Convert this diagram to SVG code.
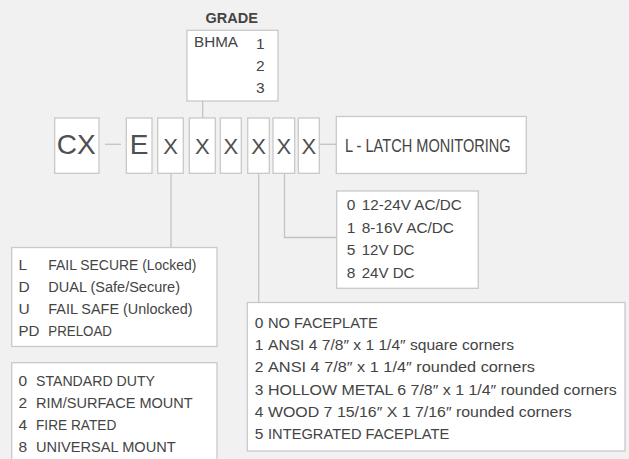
<svg xmlns="http://www.w3.org/2000/svg" width="629" height="459" viewBox="0 0 629 459">
<style>
.bg{fill:#f1f1f1}
.box{fill:#ffffff;stroke:#c9c9c9;stroke-width:1.3}
.ln{fill:none;stroke:#c3c3c3;stroke-width:1.3}
text{font-family:"Liberation Sans",Arial,sans-serif;fill:#444444}
.big{font-size:28px;fill:#505050}
.x{font-size:22px;fill:#505050}
.t{font-size:15.5px}
.g{font-size:14.5px;font-weight:bold}
.gl{font-size:15.5px}
.lm{font-size:17.5px}
</style>
<rect class="bg" x="0" y="0" width="629" height="459"/>
<g id="connectors">
<line class="ln" x1="202.7" y1="101" x2="202.7" y2="118"/>
<line class="ln" x1="105" y1="144.3" x2="121" y2="144.3"/>
<line class="ln" x1="319.3" y1="144.3" x2="336.3" y2="144.3"/>
<line class="ln" x1="171" y1="173.3" x2="171" y2="248"/>
<line class="ln" x1="258.7" y1="173.3" x2="258.7" y2="302.5"/>
<polyline class="ln" points="284.5,173.3 284.5,237.5 336.7,237.5"/>
</g>
<g id="grade">
<text class="g" x="231.7" y="22.7" text-anchor="middle">GRADE</text>
<rect class="box" x="187" y="30.3" width="91" height="70.7"/>
<text class="gl" x="194" y="46.7" textLength="44" lengthAdjust="spacingAndGlyphs">BHMA</text>
<text class="gl" x="256" y="49.3">1</text>
<text class="gl" x="256" y="71.3">2</text>
<text class="gl" x="256" y="93">3</text>
</g>
<g id="cx">
<rect class="box" x="54.7" y="118" width="44.3" height="55.3"/>
<text class="big" x="76.3" y="154" text-anchor="middle">CX</text>
</g>
<g id="e">
<rect class="box" x="126.3" y="118" width="25.7" height="55.3"/>
<text class="big" x="139.2" y="154" text-anchor="middle">E</text>
</g>
<g id="x1">
<rect class="box" x="157.7" y="118" width="25.6" height="55.3"/>
<text class="x" x="170.5" y="154" text-anchor="middle">X</text>
</g>
<g id="x2">
<rect class="box" x="189.3" y="118" width="26" height="55.3"/>
<text class="x" x="202.3" y="154" text-anchor="middle">X</text>
</g>
<g id="x3">
<rect class="box" x="220.3" y="118" width="21" height="55.3"/>
<text class="x" x="230.8" y="154" text-anchor="middle">X</text>
</g>
<g id="x4">
<rect class="box" x="247.7" y="118" width="21.6" height="55.3"/>
<text class="x" x="258.5" y="154" text-anchor="middle">X</text>
</g>
<g id="x5">
<rect class="box" x="273" y="118" width="21.7" height="55.3"/>
<text class="x" x="283.9" y="154" text-anchor="middle">X</text>
</g>
<g id="x6">
<rect class="box" x="298.3" y="118" width="21" height="55.3"/>
<text class="x" x="308.8" y="154" text-anchor="middle">X</text>
</g>
<g id="latch">
<rect class="box" x="336.3" y="116.5" width="190" height="57"/>
<text class="lm" x="345" y="152" textLength="165.7" lengthAdjust="spacingAndGlyphs">L - LATCH MONITORING</text>
</g>
<g id="voltage">
<rect class="box" x="336.7" y="191" width="141.6" height="97.3"/>
<text class="t" x="346.7" y="210">0</text><text class="t" x="361.7" y="210" textLength="100" lengthAdjust="spacingAndGlyphs">12-24V AC/DC</text>
<text class="t" x="346.7" y="232.7">1</text><text class="t" x="361.7" y="232.7" textLength="92.3" lengthAdjust="spacingAndGlyphs">8-16V AC/DC</text>
<text class="t" x="346.7" y="255.3">5</text><text class="t" x="361.7" y="255.3" textLength="52.7" lengthAdjust="spacingAndGlyphs">12V DC</text>
<text class="t" x="346.7" y="278">8</text><text class="t" x="361.7" y="278" textLength="52.7" lengthAdjust="spacingAndGlyphs">24V DC</text>
</g>
<g id="function">
<rect class="box" x="11.7" y="247.5" width="205.3" height="99"/>
<text class="t" x="18.5" y="269.5">L</text><text class="t" x="48.3" y="269.5" textLength="148" lengthAdjust="spacingAndGlyphs">FAIL SECURE (Locked)</text>
<text class="t" x="18.5" y="291.6">D</text><text class="t" x="48.3" y="291.6" textLength="131.7" lengthAdjust="spacingAndGlyphs">DUAL (Safe/Secure)</text>
<text class="t" x="18.5" y="313.7">U</text><text class="t" x="48.3" y="313.7" textLength="144.3" lengthAdjust="spacingAndGlyphs">FAIL SAFE (Unlocked)</text>
<text class="t" x="18.5" y="335.8" textLength="21" lengthAdjust="spacingAndGlyphs">PD</text><text class="t" x="48.3" y="335.8" textLength="63.7" lengthAdjust="spacingAndGlyphs">PRELOAD</text>
</g>
<g id="duty">
<rect class="box" x="11.7" y="362.7" width="205.3" height="110"/>
<text class="t" x="18.5" y="386">0</text><text class="t" x="36" y="386" textLength="119" lengthAdjust="spacingAndGlyphs">STANDARD DUTY</text>
<text class="t" x="18.5" y="408">2</text><text class="t" x="36" y="408" textLength="156.7" lengthAdjust="spacingAndGlyphs">RIM/SURFACE MOUNT</text>
<text class="t" x="18.5" y="430">4</text><text class="t" x="36" y="430" textLength="80.3" lengthAdjust="spacingAndGlyphs">FIRE RATED</text>
<text class="t" x="18.5" y="452">8</text><text class="t" x="36" y="452" textLength="139.7" lengthAdjust="spacingAndGlyphs">UNIVERSAL MOUNT</text>
</g>
<g id="faceplate">
<rect class="box" x="247.3" y="302.5" width="377.7" height="148.5"/>
<text class="t" x="254.7" y="328">0</text><text class="t" x="268" y="328" textLength="109.7" lengthAdjust="spacingAndGlyphs">NO FACEPLATE</text>
<text class="t" x="254.7" y="350.2">1</text><text class="t" x="268" y="350.2" textLength="246" lengthAdjust="spacingAndGlyphs">ANSI 4 7/8″ x 1 1/4″ square corners</text>
<text class="t" x="254.7" y="372.4">2</text><text class="t" x="268" y="372.4" textLength="267" lengthAdjust="spacingAndGlyphs">ANSI 4 7/8″ x 1 1/4″ rounded corners</text>
<text class="t" x="254.7" y="394.6">3</text><text class="t" x="268" y="394.6" textLength="348.7" lengthAdjust="spacingAndGlyphs">HOLLOW METAL 6 7/8″ x 1 1/4″ rounded corners</text>
<text class="t" x="254.7" y="416.8">4</text><text class="t" x="268" y="416.8" textLength="303.7" lengthAdjust="spacingAndGlyphs">WOOD 7 15/16″ X 1 7/16″ rounded corners</text>
<text class="t" x="254.7" y="439">5</text><text class="t" x="268" y="439" textLength="181.3" lengthAdjust="spacingAndGlyphs">INTEGRATED FACEPLATE</text>
</g>
</svg>
